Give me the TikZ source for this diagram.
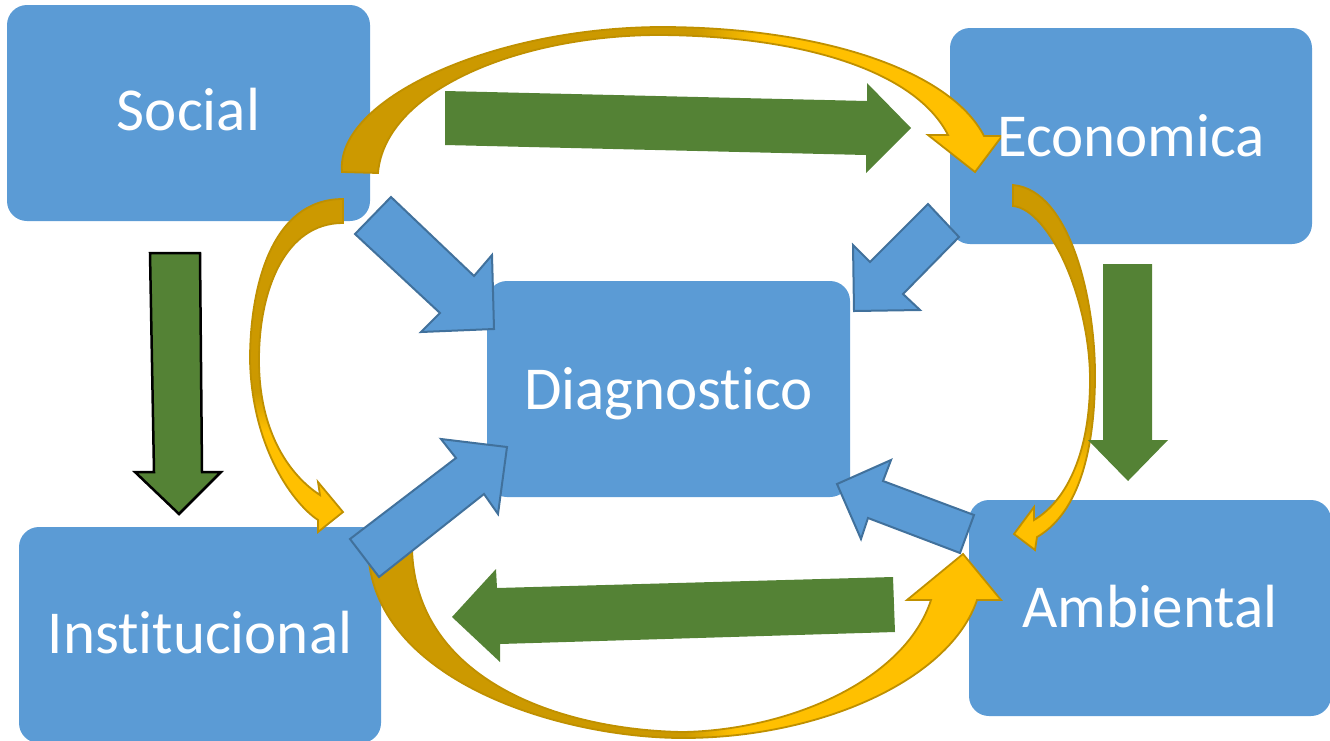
\documentclass[tikz,border=0pt]{standalone}
\usepackage{fontspec}
\setmainfont{Carlito}[RawFeature={-liga;-clig;-dlig;-calt}]
\definecolor{boxblue}{HTML}{5B9BD5}
\definecolor{bluedge}{HTML}{41719C}
\definecolor{leaf}{HTML}{548235}
\definecolor{gdark}{HTML}{CC9900}
\definecolor{glight}{HTML}{FFC000}
\definecolor{gedge}{HTML}{BF9000}
% horizontal shadings: 0bp = left; path spans 25bp..75bp
\pgfdeclarehorizontalshading{goldT}{100bp}{color(0bp)=(gdark); color(52bp)=(gdark); color(57bp)=(glight); color(100bp)=(glight)}
\pgfdeclarehorizontalshading{goldB}{100bp}{color(0bp)=(gdark); color(50bp)=(gdark); color(54bp)=(glight); color(100bp)=(glight)}
% vertical shadings: 0bp = bottom
\pgfdeclareverticalshading{goldL}{100bp}{color(0bp)=(glight); color(40bp)=(glight); color(46bp)=(gdark); color(100bp)=(gdark)}
\pgfdeclareverticalshading{goldR}{100bp}{color(0bp)=(glight); color(36bp)=(glight); color(43bp)=(gdark); color(100bp)=(gdark)}
\tikzset{
  boxnode/.style={rectangle, rounded corners=20pt, fill=boxblue, draw=none,
    minimum width=362pt, minimum height=216pt, inner sep=0pt},
  lbl/.style={text=white, inner sep=0pt, anchor=base, font=\fontsize{61}{68}\selectfont},
  bluearrow/.style={fill=boxblue, draw=bluedge, line width=2pt, line join=miter},
  greenarrow/.style={fill=leaf, draw=none},
  greenblack/.style={fill=leaf, draw=black, line width=2.5pt, line join=miter},
  goldarrow/.style={shade, draw=gedge, line width=1.8pt, line join=miter},
}
\begin{document}
\begin{tikzpicture}[x=1pt, y=-1pt]
\useasboundingbox (0,0) rectangle (1330,740);
% boxes
\node[boxnode, minimum width=363pt] (soc) at (188.5,113) {};
\node[boxnode] (eco) at (1131,136) {};
\node[boxnode, minimum width=363pt] (dia) at (668.5,389) {};
\node[boxnode] (ins) at (200,635) {};
\node[boxnode] (amb) at (1150,608) {};
% gold curved arrows
\path[goldarrow, shading=goldT] (342,172) .. controls (335,100) and (490,28) .. (660,27)
  .. controls (820,27) and (950,70) .. (984,136) -- (1002,136) -- (975,172) -- (928,135) -- (948,135)
  .. controls (915,70) and (800,36) .. (660,35) .. controls (520,35) and (385,90) .. (378,173) -- cycle;
\path[goldarrow, shading=goldL] (343,199) .. controls (270,199) and (250,290) .. (250,360)
  .. controls (252,450) and (295,505) .. (318,520) -- (318,532) -- (343,512) -- (318,482) -- (320,495)
  .. controls (292,477) and (259,435) .. (259,360) .. controls (259,290) and (285,223) .. (343,223) -- cycle;
\path[goldarrow, shading=goldR] (1013,185) .. controls (1070,190) and (1096,300) .. (1095,380)
  .. controls (1094,460) and (1075,515) .. (1037,537) -- (1035,550) -- (1014,534) -- (1034,507) -- (1034,520)
  .. controls (1068,500) and (1090,450) .. (1090,380) .. controls (1090,300) and (1050,210) .. (1013,206) -- cycle;
\path[goldarrow, shading=goldB] (368,548) .. controls (370,680) and (560,738) .. (683,738)
  .. controls (820,738) and (950,680) .. (977,600) -- (1001,600) -- (963,554) -- (907,600) -- (931,600)
  .. controls (905,680) and (790,730) .. (683,732) .. controls (560,730) and (415,680) .. (412,548) -- cycle;
% blue arrows towards Diagnostico
\path[bluearrow] (355,234) -- (391,197) -- (474,276) -- (492,255) -- (494,329) -- (421,332) -- (440,313) -- cycle;
\path[bluearrow] (350,539) -- (456,458) -- (441,439) -- (507,447) -- (498,514) -- (484,494) -- (379,577) -- cycle;
\path[bluearrow] (928,204) -- (959,237) -- (903,294) -- (920,310) -- (854,311) -- (853,245) -- (870,262) -- cycle;
\path[bluearrow] (837,484) -- (891,460) -- (883,481) -- (974,515) -- (960,553) -- (868,518) -- (861,539) -- cycle;
% green arrows
\path[greenarrow] (445,91) -- (867,101) -- (867,83) -- (911,128) -- (866,173) -- (866,155) -- (445,145) -- cycle;
\path[greenarrow] (452,617) -- (496,569) -- (497,588) -- (893,577) -- (895,632) -- (500,644) -- (500,662) -- cycle;
\path[greenblack] (150,253) -- (200,253) -- (202,472) -- (221,472) -- (179,514) -- (135,472) -- (154,472) -- cycle;
\path[greenarrow] (1103,264) -- (1152,264) -- (1152,440) -- (1168,440) -- (1128,481) -- (1088,440) -- (1103,440) -- cycle;
% labels
\node[lbl] (socl) at ([yshift=-17pt]soc.center) {Social};
\node[lbl] (ecol) at ([yshift=-20pt]eco.center) {Economica};
\node[lbl] (dial) at ([yshift=-20pt]dia.center) {Diagnostico};
\node[lbl] (insl) at ([yshift=-18pt]ins.center) {Institucional};
\node[lbl] (ambl) at ([yshift=-19pt]amb.center) {Ambiental};
\end{tikzpicture}
\end{document}
